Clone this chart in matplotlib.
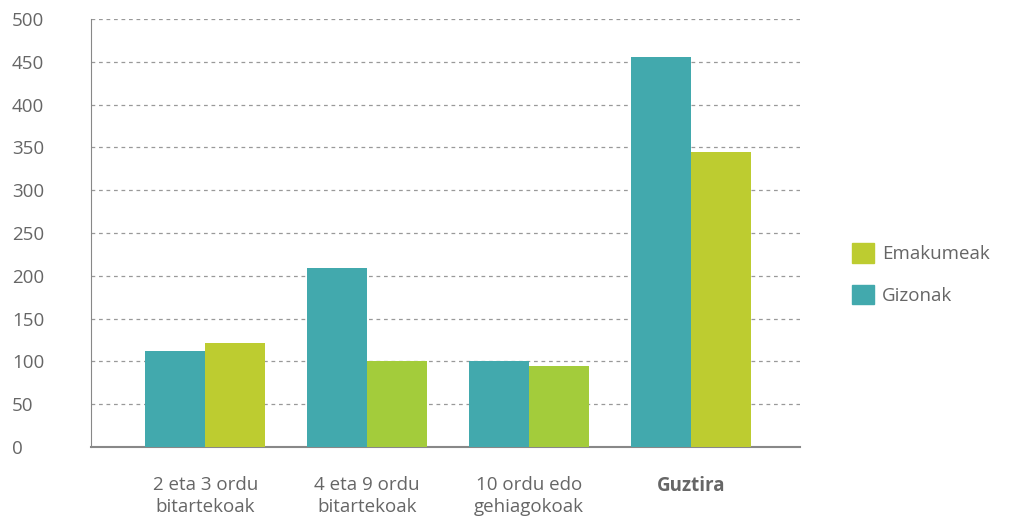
import matplotlib.pyplot as plt
from matplotlib.patches import Patch

categories = ["2 eta 3 ordu\nbitartekoak", "4 eta 9 ordu\nbitartekoak", "10 ordu edo\ngehiagokoak", "Guztira"]
gizonak = [112, 209, 100, 456]
emakumeak = [121, 100, 95, 345]
emakumeak_colors = ["#bdcc30", "#a3cc3b", "#a3cc3b", "#bdcc30"]

teal = "#42a9ad"
text_col = "#666666"

plt.rcParams["font.family"] = ["Open Sans", "DejaVu Sans"]

fig = plt.figure(figsize=(10.15, 5.21), dpi=100)
ax = fig.add_axes([91 / 1015, 74 / 521, 709 / 1015, 428 / 521])

x = list(range(len(categories)))
w = 0.371
ax.bar([i - w / 2 for i in x], gizonak, width=w, color=teal, zorder=3)
ax.bar([i + w / 2 for i in x], emakumeak, width=w, color=emakumeak_colors, zorder=3)

ax.set_xlim(-0.706, 3.675)
ax.set_ylim(0, 500)
ax.set_yticks(range(0, 501, 50))
ax.yaxis.grid(True, linestyle=(0, (3, 3)), color="#999999", linewidth=0.9, zorder=0)
ax.set_axisbelow(True)

for s in ["top", "right"]:
    ax.spines[s].set_visible(False)
ax.spines["left"].set_color("#888888")
ax.spines["bottom"].set_color("#888888")
ax.spines["bottom"].set_linewidth(1.5)

ax.tick_params(axis="both", length=0, colors=text_col, labelsize=13.5)
ax.tick_params(axis="y", pad=57)
for lbl in ax.get_yticklabels():
    lbl.set_horizontalalignment("left")

ax.set_xticks(x)
ax.set_xticklabels(categories, linespacing=1.3)
ax.tick_params(axis="x", pad=21)
ax.get_xticklabels()[-1].set_fontweight("bold")

handles = [Patch(color=emakumeak_colors[0]), Patch(color=teal)]
leg = fig.legend(handles, ["Emakumeak", "Gizonak"], loc="center left",
                 bbox_to_anchor=(835 / 1015, 247 / 521), frameon=False,
                 fontsize=13.5, handlelength=1.2, handleheight=1.2,
                 labelspacing=1.15, handletextpad=0.4)
for t in leg.get_texts():
    t.set_color(text_col)

fig.savefig("out.png", dpi=100)
